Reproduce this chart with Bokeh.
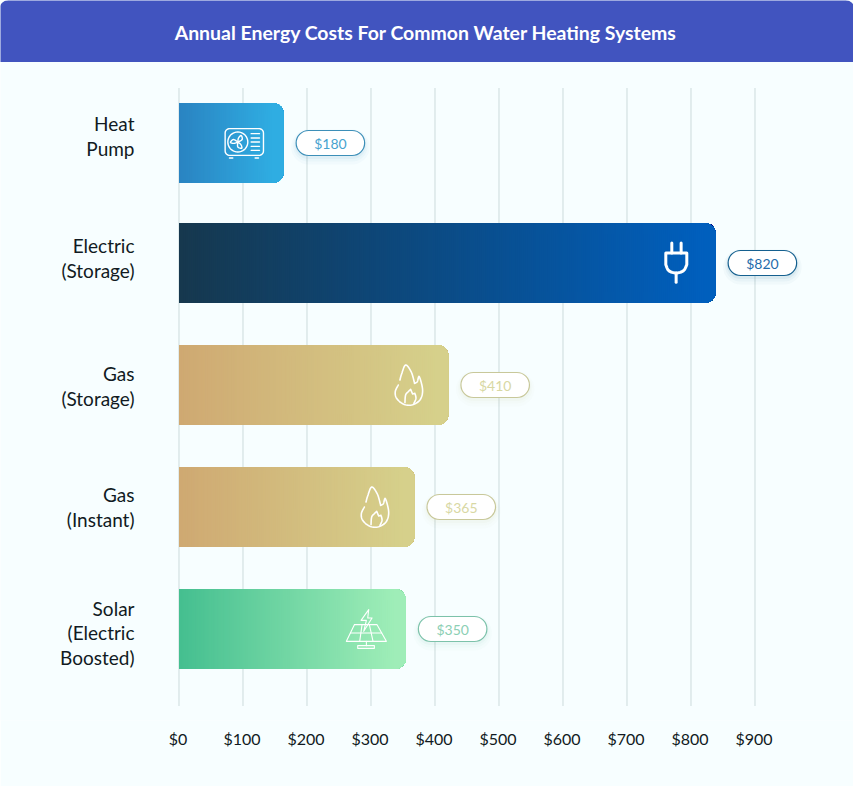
import math
from bokeh.plotting import figure
from bokeh.models import Range1d, LinearAxis, FixedTicker
from bokeh.core.properties import value
from bokeh.embed import file_html
from bokeh.resources import INLINE

# ---- data ----
title = "Annual Energy Costs For Common Water Heating Systems"
categories = ["Heat\nPump", "Electric\n(Storage)", "Gas\n(Storage)", "Gas\n(Instant)", "Solar\n(Electric\nBoosted)"]
costs = [180, 820, 410, 365, 350]                  # printed on the pills
drawn_lengths = [163.5, 838.5, 421, 368, 354.5]    # where the bars end on the $ axis
tick_values = [0, 100, 200, 300, 400, 500, 600, 700, 800, 900]

# ---- layout / style ----
W, H = 853, 786
FRAME_H = 720
X0, PX = 179.5, 0.64
SHIFT_X, SHIFT_Y = 1.0, 0.5
bar_y = [143, 263, 385, 507, 629]
label_y = [136, 258, 386, 507, 633]
grad_from = ["#2a84c2", "#16384e", "#cfa972", "#cfa972", "#45bf90"]
grad_to = ["#30b2e6", "#0060c0", "#d6d28c", "#d6d28c", "#a4f0ba"]
pill_line = ["#3d8fb8", "#15608f", "#c8c89a", "#c8c89a", "#7cc2aa"]
pill_text = ["#48a3cf", "#1f6cab", "#d8d8a4", "#d8d8a4", "#8ccfb4"]
BG = "#f7feff"
FONT = "Lato"


def dx(px):
    return px / PX


def hex2rgb(h):
    return [int(h[i:i + 2], 16) for i in (1, 3, 5)]


def mix(a, b, t):
    ra, rb = hex2rgb(a), hex2rgb(b)
    return "#%02x%02x%02x" % tuple(round(u + (v - u) * t) for u, v in zip(ra, rb))


p = figure(width=W, height=H, output_backend="svg", toolbar_location=None,
           x_range=Range1d(-dx(X0 - SHIFT_X), dx(W - X0 + SHIFT_X)),
           y_range=Range1d(FRAME_H + SHIFT_Y, SHIFT_Y),
           min_border_left=0, min_border_right=0, min_border_top=0, min_border_bottom=H - FRAME_H,
           x_axis_location=None, y_axis_location=None,
           background_fill_color=BG, border_fill_color=BG, outline_line_color=None)
p.xgrid.visible = False
p.ygrid.visible = False

# header
p.quad(left=[-dx(X0)], right=[dx(W - X0 + 2)], top=[0], bottom=[62], fill_color="#4154bf", line_color=None,
       border_radius=(9, 9, 0, 0))
p.text([dx(426.5 - X0)], [32], text=[title], text_color="white", text_align="center",
       text_baseline="middle", text_font=value(FONT), text_font_size="19.45px", text_font_style="bold")

# gridlines
p.segment(tick_values, [88] * len(tick_values), tick_values, [706] * len(tick_values),
          line_color="#b9cdcd", line_width=0.7)

# gradient bars: overlapping strips, each running to the bar end
RADIUS = 11
for k, (length, y) in enumerate(zip(drawn_lengths, bar_y)):
    stop = length - dx(RADIUS + 1)
    strips = int(stop * PX / 2)
    starts = [stop * i / strips for i in range(strips + 1)]
    p.hbar(y=[y] * len(starts), left=starts, right=[length] * len(starts), height=80,
           fill_color=[mix(grad_from[k], grad_to[k], s / length) for s in starts], line_color=None,
           border_radius=(0, RADIUS, RADIUS, 0))

# value pills with soft shadow
for k, (length, y, c) in enumerate(zip(drawn_lengths, bar_y, costs)):
    a, b = length + dx(12.5), length + dx(81)
    for grow, off, alpha in ((5, 4, 0.03), (3, 3, 0.04), (1.5, 2, 0.06)):
        p.hbar(y=[y + off], left=[a - dx(grow)], right=[b + dx(grow)], height=25 + 2 * grow,
               fill_color=pill_line[k], fill_alpha=alpha, line_color=None,
               border_radius=int(13 + grow))
    p.hbar(y=[y], left=[a], right=[b], height=25, fill_color="white", line_color=pill_line[k],
           line_width=1.2, border_radius=13)
    p.text([(a + b) / 2], [y], text=["$%d" % c], text_color=pill_text[k], text_align="center",
           text_baseline="middle", text_font=value(FONT), text_font_size="14px")

# category labels
p.text([dx(135 - X0)] * len(categories), label_y, text=categories, text_color="#111a22", text_align="right",
       text_baseline="middle", text_font=value(FONT), text_font_size="19px", text_line_height=1.05)


# ---- icons: sketched in pixels round their own centre, placed from the bar end ----
def smooth(pts, steps=8):
    out = []
    m = len(pts)
    for i in range(m - 1):
        p0 = pts[i - 1] if i > 0 else pts[i]
        p1 = pts[i]
        p2 = pts[i + 1]
        p3 = pts[i + 2] if i + 2 < m else p2
        for s in range(steps):
            u = s / steps
            f = lambda a, b, c, d: 0.5 * (2 * b + (c - a) * u + (2 * a - 5 * b + 4 * c - d) * u ** 2 + (3 * b - a - 3 * c + d) * u ** 3)
            out.append((f(p0[0], p1[0], p2[0], p3[0]), f(p0[1], p1[1], p2[1], p3[1])))
    out.append(pts[-1])
    return out


def circle(cx, cy, r):
    return [(cx + r * math.cos(a * math.pi / 18), cy + r * math.sin(a * math.pi / 18)) for a in range(37)]


def rrect(x0, y0, x1, y1, r):
    pts = []
    for cx, cy, a0 in ((x1 - r, y0 + r, -90), (x1 - r, y1 - r, 0), (x0 + r, y1 - r, 90), (x0 + r, y0 + r, 180)):
        for s in range(7):
            a = math.radians(a0 + 15 * s)
            pts.append((cx + r * math.cos(a), cy + r * math.sin(a)))
    pts.append(pts[0])
    return pts


def zoomed(pts, cx, cy):
    return [((x - cx) / 3, (y - cy) / 3) for x, y in pts]


fan = [rrect(165, 115, 280, 195, 13), circle(203, 155, 30)]
for a in (40, 160, 280):
    r0 = math.radians(a)
    r1 = math.radians(a + 50)
    fan.append(smooth([(203, 155), (203 + 12 * math.cos(r0), 155 + 12 * math.sin(r0)),
                       (203 + 22 * math.cos(r0 + .3), 155 + 22 * math.sin(r0 + .3)),
                       (203 + 15 * math.cos(r1), 155 + 15 * math.sin(r1)), (203, 155)]))
fan += [[(243, yy), (268, yy)] for yy in (130, 143, 155, 168, 180)]
fan += [[(178, 203), (188, 203)], [(255, 203), (265, 203)]]
fan = [zoomed(s, 222, 158) for s in fan]

plug = [[(155, 100), (155, 130)], [(183, 100), (183, 130)],
        [(137, 130), (200, 130), (200, 165)] + smooth([(200, 165), (190, 183), (168, 190), (146, 183), (137, 165)]) + [(137, 130)],
        [(168, 190), (168, 218)]]
plug = [zoomed(s, 168, 160) for s in plug]

flame_src = [smooth([(180, 90), (185, 72), (197, 45), (214, 66), (224, 100)]),
             smooth([(224, 100), (232, 95), (238, 80), (248, 120), (240, 150), (215, 165), (190, 162), (170, 145), (166, 125), (175, 105)]),
             smooth([(195, 158), (197, 135), (205, 125), (212, 118)]) + [(218, 132), (225, 130)] + smooth([(225, 130), (228, 145), (222, 160)])]
flame = [zoomed(s, 207, 105) for s in flame_src]

solar = [[(72, 105), (140, 105), (168, 155), (48, 155), (72, 105)], [(60, 130), (154, 130)],
         [(95, 105), (88, 155)], [(117, 105), (128, 155)],
         [(108, 155), (108, 168)], [(82, 168), (132, 168), (132, 176), (82, 176), (82, 168)],
         [(115, 60), (92, 92), (108, 92), (100, 125), (125, 85), (112, 85), (115, 60)]]
solar = [zoomed(s, 108, 118) for s in solar]

icons = [(fan, 1.4), (plug, 3), (flame, 1.6), (flame, 1.6), (solar, 1.1)]
for (strokes, width), length, y in zip(icons, drawn_lengths, bar_y):
    cx = length - dx(39.5)
    p.multi_line([[cx + dx(a) for a, _ in s] for s in strokes], [[y + b for _, b in s] for s in strokes],
                 line_color="white", line_width=width, line_cap="round", line_join="round")

# x axis: labels sit just left of their gridlines
p.extra_x_ranges["labels"] = Range1d(-dx(X0 - SHIFT_X - 1), dx(W - X0 + SHIFT_X + 1))
axis = LinearAxis(x_range_name="labels", ticker=FixedTicker(ticks=tick_values),
                  major_label_overrides={v: "$%d" % v for v in tick_values},
                  axis_line_color=None, major_tick_line_color=None, minor_tick_line_color=None,
                  major_label_text_font=FONT, major_label_text_font_size="16px",
                  major_label_text_color="#111a22", major_label_standoff=2)
p.add_layout(axis, "below")

open("out.html", "w").write(file_html(p, INLINE))
